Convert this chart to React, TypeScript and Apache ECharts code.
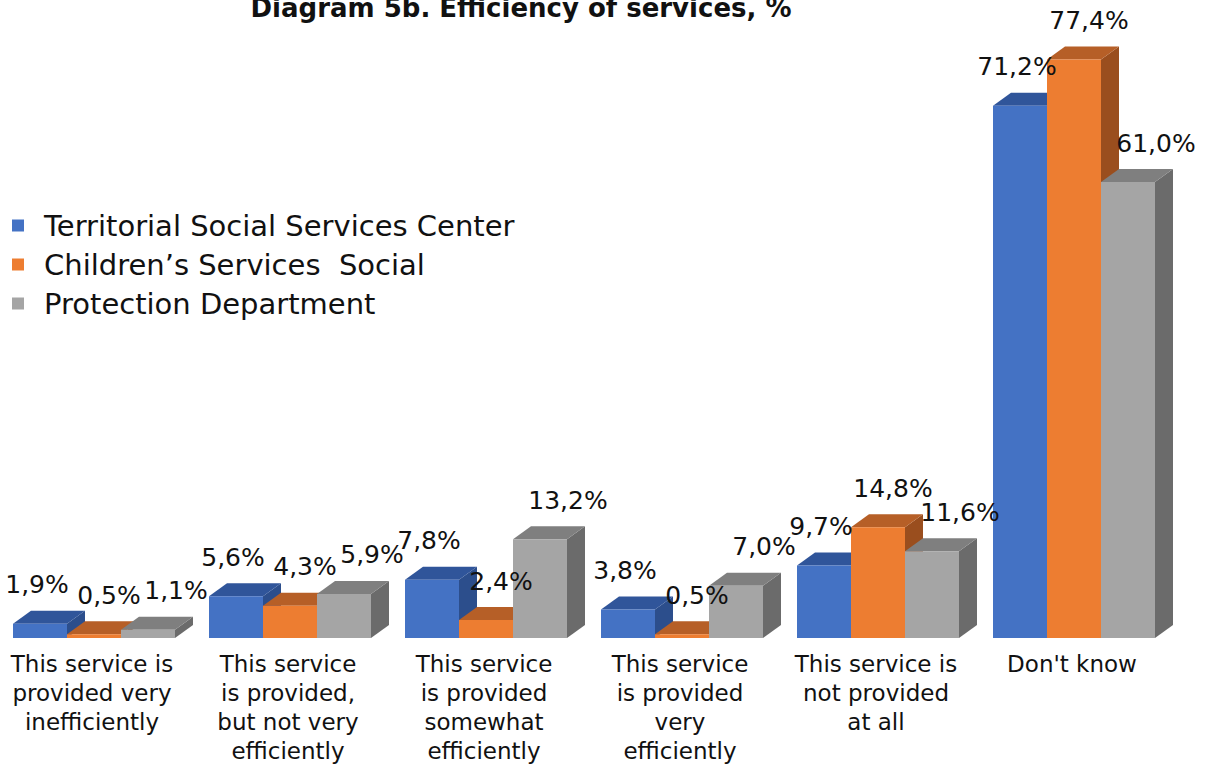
import React, { useEffect, useRef } from "react";
import * as echarts from "echarts";

const categories = [
  "This service is\nprovided very\ninefficiently",
  "This service\nis provided,\nbut not very\nefficiently",
  "This service\nis provided\nsomewhat\nefficiently",
  "This service\nis provided\nvery\nefficiently",
  "This service is\nnot provided\nat all",
  "Don't know",
];
const seriesNames = [
  "Territorial Social Services Center",
  "Children’s Services  Social",
  "Protection Department",
];
const territorial = [1.9, 5.6, 7.8, 3.8, 9.7, 71.2];
const childrens = [0.5, 4.3, 2.4, 0.5, 14.8, 77.4];
const protection = [1.1, 5.9, 13.2, 7.0, 11.6, 61.0];
const titleText = "Diagram 5b. Efficiency of services, %";

const FONT = "'DejaVu Sans', sans-serif";
const palettes = [
  { front: "#4472C4", top: "#30559A", side: "#2C4E8C" },
  { front: "#ED7D31", top: "#B65F27", side: "#9A4E1E" },
  { front: "#A5A5A5", top: "#7F7F7F", side: "#6B6B6B" },
];
const BAR_W = 54;
const DX = 18;
const DY = 13;
const GROUP_SHIFT = -4;
const labelDx = [-3, 15, 28];

const fmt = (v: number) => v.toFixed(1).replace(".", ",") + "%";

function makeRender(s: number) {
  return (params: any, api: any) => {
    const i = api.value(0);
    const v = api.value(1);
    const top = api.coord([i, v]);
    const base = api.coord([i, 0]);
    const x0 = top[0] + GROUP_SHIFT - (BAR_W * 3) / 2 + s * BAR_W;
    const yT = top[1];
    const yB = base[1];
    const p = palettes[s];
    return {
      type: "group",
      children: [
        {
          type: "polygon",
          shape: {
            points: [
              [x0 + BAR_W, yT],
              [x0 + BAR_W + DX, yT - DY],
              [x0 + BAR_W + DX, yB - DY],
              [x0 + BAR_W, yB],
            ],
          },
          style: { fill: p.side },
        },
        {
          type: "polygon",
          shape: {
            points: [
              [x0, yT],
              [x0 + DX, yT - DY],
              [x0 + BAR_W + DX, yT - DY],
              [x0 + BAR_W, yT],
            ],
          },
          style: { fill: p.top },
        },
        {
          type: "rect",
          shape: { x: x0, y: yT, width: BAR_W, height: yB - yT },
          style: { fill: p.front },
        },
        {
          type: "text",
          z2: 100,
          x: x0 + BAR_W / 2 + labelDx[s],
          y: yT - 39,
          style: {
            text: fmt(v),
            fill: "#111",
            fontSize: 25,
            fontFamily: FONT,
            align: "center",
            verticalAlign: "middle",
          },
        },
      ],
    };
  };
}

export default function App() {
  const ref = useRef<HTMLDivElement>(null);
  useEffect(() => {
    const chart = echarts.init(ref.current!, undefined, { renderer: "svg" });
    const allData = [territorial, childrens, protection];
    chart.setOption({
      animation: false,
      backgroundColor: "#ffffff",
      graphic: [
        {
          type: "text",
          x: 521,
          y: 8,
          style: {
            text: titleText,
            fontSize: 26,
            fontWeight: "bold",
            fontFamily: FONT,
            fill: "#111",
            align: "center",
            verticalAlign: "middle",
          },
        },
      ],
      legend: {
        orient: "vertical",
        left: 12,
        top: 206,
        padding: 0,
        icon: "rect",
        itemWidth: 12,
        itemHeight: 12,
        itemGap: 0,
        data: seriesNames,
        textStyle: {
          fontSize: 29,
          fontFamily: FONT,
          color: "#111",
          lineHeight: 39,
          padding: [0, 0, 0, 15],
        },
      },
      grid: { left: 0, width: 1176, top: 40, height: 601 },
      xAxis: {
        type: "category",
        data: categories,
        axisLine: { show: false },
        axisTick: { show: false },
        axisLabel: {
          interval: 0,
          margin: 11,
          fontSize: 23,
          lineHeight: 29,
          fontFamily: FONT,
          color: "#111",
          verticalAlign: "top",
          padding: [0, 12, 0, 0],
        },
      },
      yAxis: { type: "value", min: 0, max: 80, show: false, splitLine: { show: false } },
      series: allData.map((arr, s) => ({
        type: "custom",
        name: seriesNames[s],
        itemStyle: { color: palettes[s].front },
        renderItem: makeRender(s),
        clip: false,
        data: arr.map((v, i) => [i, v]),
        encode: { x: 0, y: 1 },
      })),
    });
    return () => chart.dispose();
  }, []);
  return (
    <div
      ref={ref}
      style={{ position: "fixed", left: 0, top: 0, width: 1215, height: 765 }}
    />
  );
}
